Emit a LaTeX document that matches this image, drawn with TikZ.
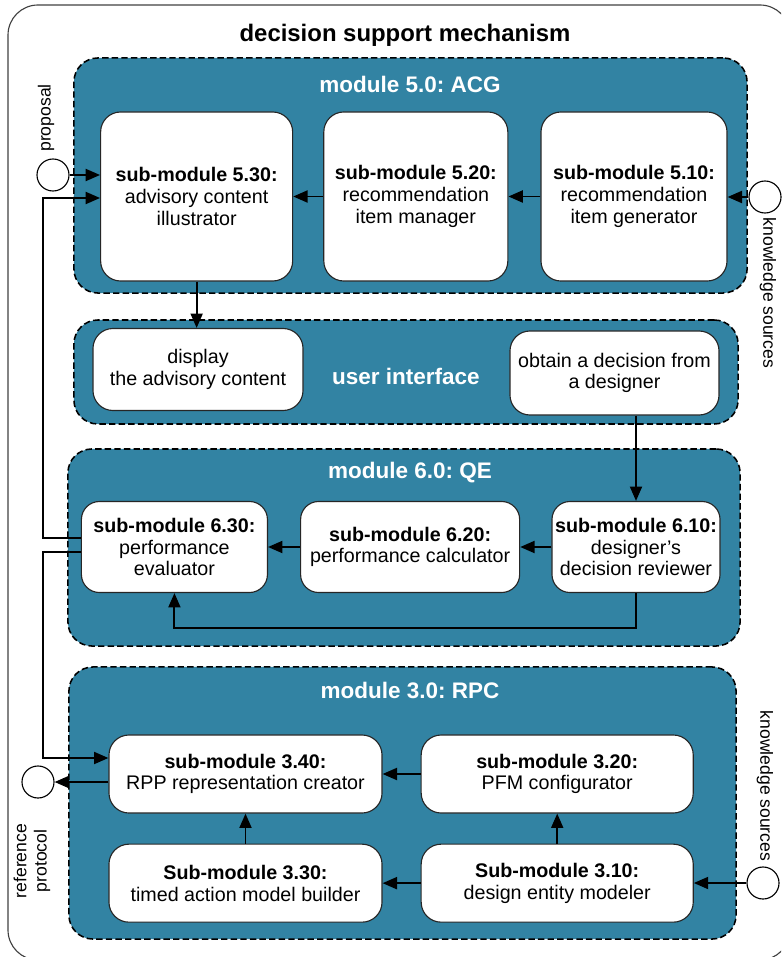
\documentclass[tikz,border=0pt]{standalone}
\usepackage{fontspec}
\setmainfont{Liberation Sans}
\usetikzlibrary{arrows.meta, positioning}
\definecolor{modblue}{RGB}{50,131,163}
\frenchspacing

\begin{document}
\begin{tikzpicture}[
        x=0.025cm, y=-0.025cm,
        node distance=0.8cm,
        % This defines the style of the outer frame
        outerframe/.style={draw=black!75, line width=0.8pt, rounded corners=0.75cm},
        % This defines the style of the module containers
        module/.style={rectangle, draw=black, fill=modblue, line width=1.1pt, dash pattern=on 1.6mm off 0.8mm, rounded corners=0.6cm},
        modtitle/.style={text=white, font=\bfseries\fontsize{16}{19}\selectfont},
        % This defines the style of the sub-module boxes
        subbox/.style={rectangle, draw=black!85, fill=white, line width=0.8pt, rounded corners=0.5cm, align=center, font=\fontsize{14}{15.5}\selectfont, inner sep=2pt},
        % inputs and outputs
        port/.style={circle, draw=black, fill=white, line width=0.8pt, minimum size=0.8cm, inner sep=0pt},
        portlabel/.style={font=\fontsize{12.5}{14.5}\selectfont, align=center},
        % This defines the style of the arrows
        arrow/.style={-{Triangle[length=3.6mm,width=3mm]}, line width=1.4pt, draw=black}
    ]
    \useasboundingbox (0,0) rectangle (781,957);
    \begin{scope}
        \clip (0,0) rectangle (781,957);
        \draw [outerframe] (8,5) rectangle (790,960);
    \end{scope}

    \node (title) at (405,35) {\bfseries\fontsize{17}{20}\selectfont decision support mechanism};

    % --- THE MODULES ---
    \node (acg) [module, minimum width=16.825cm, minimum height=5.875cm] at (410.5,175.5) {};
    \node (ui) [module, minimum width=16.6cm, minimum height=2.6cm] at (406,372) {};
    \node (qe) [module, minimum width=16.8cm, minimum height=4.925cm] at (404,547.5) {};
    \node (rpc) [module, minimum width=16.675cm, minimum height=6.8cm] at (402.5,803) {};

    \node (acgtitle) [modtitle] at (410,84) {module 5.0: ACG};
    \node (uititle) [modtitle] at (406,376) {user interface};
    \node (qetitle) [modtitle] at (410,473) {module 6.0: QE};
    \node (rpctitle) [modtitle] at (410,690) {module 3.0: RPC};

    % --- THE SUB-MODULES ---
    \node (s510) [subbox, minimum width=4.65cm, minimum height=4.225cm] at (634,196.5) {\textbf{sub-module 5.10:}\\recommendation\\item generator};
    \node (s520) [subbox, minimum width=4.6cm, minimum height=4.225cm, left=of s510] {\textbf{sub-module 5.20:}\\recommendation\\item manager};
    \node (s530) [subbox, minimum width=4.8cm, minimum height=4.225cm, left=0.75cm of s520] {\textbf{sub-module 5.30:}\\advisory content\\illustrator};

    \node (disp) [subbox, minimum width=5.25cm, minimum height=2.05cm] at (198,369.5) {display\\the advisory content};
    \node (obtain) [subbox, minimum width=5.225cm, minimum height=2.1cm] at (614.5,373) {obtain a decision from\\a designer};

    \node (s610) [subbox, minimum width=4.2cm, minimum height=2.275cm, rounded corners=0.45cm] at (636,547) {\textbf{sub-module 6.10:}\\designer’s\\decision reviewer};
    \node (s620) [subbox, minimum width=5.475cm, minimum height=2.275cm, rounded corners=0.45cm, left=0.78cm of s610] {\textbf{sub-module 6.20:}\\performance calculator};
    \node (s630) [subbox, minimum width=4.65cm, minimum height=2.275cm, rounded corners=0.45cm, left=of s620] {\textbf{sub-module 6.30:}\\performance\\evaluator};

    \node (s340) [subbox, minimum width=6.825cm, minimum height=1.95cm] at (245.5,774) {\textbf{sub-module 3.40:}\\RPP representation creator};
    \node (s320) [subbox, minimum width=6.8cm, minimum height=1.95cm, right=0.95cm of s340] {\textbf{sub-module 3.20:}\\PFM configurator};
    \node (s330) [subbox, minimum width=6.825cm, minimum height=1.95cm, below=0.75cm of s340] {\textbf{Sub-module 3.30:}\\timed action model builder};
    \node (s310) [subbox, minimum width=6.8cm, minimum height=1.95cm, below=0.75cm of s320] {\textbf{Sub-module 3.10:}\\design entity modeler};

    % --- THE PORTS ---
    \node (prop) [port] at (53,175) {};
    \node (ks1) [port] at (765,197) {};
    \node (ks2) [port] at (763,883) {};
    \node (refp) [port] at (38,782) {};

    \node (proplabel) [portlabel, rotate=90] at (46,118) {proposal};
    \node (ks1label) [portlabel, rotate=-90] at (768,293) {knowledge sources};
    \node (ks2label) [portlabel, rotate=-90] at (765,786) {knowledge sources};
    \node (refplabel) [portlabel, rotate=90] at (32,861) {reference\\protocol};

    % --- THE ARROWS ---
    \coordinate (upstart) at (43,538);
    \coordinate (upend) at (43,198);
    \coordinate (dnstart) at (43,552);
    \coordinate (dnend) at (43,758);
    \coordinate (fb) at (0,628);

    \draw [arrow] (prop) -- (s530.west |- prop);
    \draw [arrow] (s630.west |- upstart) -- (upstart) -- (upend) -- (s530.west |- upend);
    \draw [arrow] (ks1) -- (s510.east |- ks1);
    \draw [arrow] (s510) -- (s520);
    \draw [arrow] (s520) -- (s530);
    \draw [arrow] (s530.south) -- (s530.south |- disp.north);
    \draw [arrow] (s610.north |- obtain.south) -- (s610.north);
    \draw [arrow] (s610) -- (s620);
    \draw [arrow] (s620) -- (s630);
    \draw [arrow] (s610.south) -- (s610.south |- fb) -| (s630.south);
    \draw [arrow] (s630.west |- dnstart) -- (dnstart) -- (dnend) -- (s340.west |- dnend);
    \draw [arrow] (s340.west |- refp) -- (refp);
    \draw [arrow] (ks2) -- (s310.east |- ks2);
    \draw [arrow] (s310) -- (s330);
    \draw [arrow] (s320) -- (s340);
    \draw [arrow] (s330) -- (s340);
    \draw [arrow] (s310) -- (s320);

\end{tikzpicture}
\end{document}
